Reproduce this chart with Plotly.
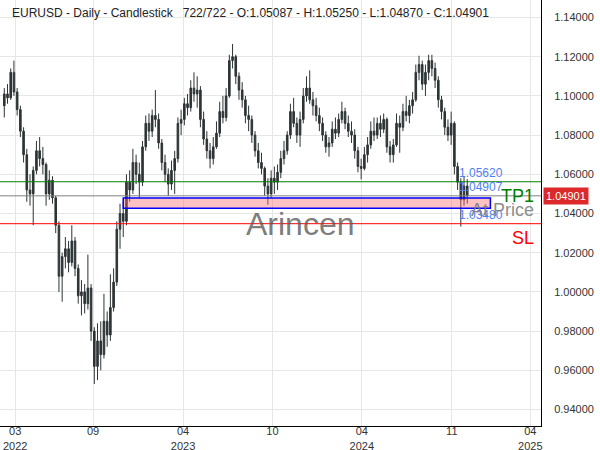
import plotly.graph_objects as go

# Weekly-aggregated candles (EURUSD)
opens = [1.095,1.101,1.099,1.112,1.102,1.093,1.082,1.070,1.052,1.050,
         1.062,1.072,1.068,1.065,1.050,1.057,1.048,1.034,1.008,1.018,
         1.022,1.015,1.026,1.012,0.998,1.000,0.994,1.002,0.980,0.962,
         0.975,0.968,0.985,0.978,0.992,1.005,1.032,1.040,1.036,1.056,
         1.052,1.066,1.060,1.056,1.074,1.086,1.082,1.090,1.088,1.076,
         1.066,1.060,1.055,1.062,1.068,1.086,1.088,1.096,1.094,1.104,
         1.101,1.103,1.088,1.078,1.072,1.068,1.074,1.081,1.092,1.089,
         1.100,1.118,1.120,1.110,1.103,1.098,1.090,1.088,1.080,1.072,
         1.066,1.063,1.054,1.050,1.058,1.056,1.061,1.068,1.072,1.080,
         1.092,1.086,1.080,1.088,1.100,1.104,1.098,1.095,1.090,1.086,
         1.080,1.074,1.076,1.083,1.081,1.088,1.092,1.086,1.082,1.080,
         1.072,1.064,1.063,1.070,1.075,1.082,1.080,1.086,1.083,1.088,
         1.074,1.070,1.075,1.086,1.084,1.092,1.090,1.095,1.098,1.112,
         1.116,1.106,1.112,1.118,1.114,1.108,1.098,1.092,1.084,1.080,
         1.086,1.064,1.056,1.047,1.054]
highs = [1.104,1.106,1.114,1.118,1.104,1.095,1.084,1.073,1.060,1.064,
         1.077,1.079,1.074,1.066,1.062,1.059,1.049,1.036,1.020,1.028,
         1.026,1.034,1.028,1.014,1.006,1.004,1.019,1.004,0.982,0.984,
         0.985,0.999,0.990,1.009,1.012,1.036,1.045,1.046,1.060,1.062,
         1.073,1.070,1.066,1.077,1.090,1.091,1.093,1.103,1.091,1.078,
         1.070,1.063,1.067,1.072,1.089,1.093,1.099,1.101,1.108,1.112,
         1.110,1.105,1.092,1.082,1.076,1.079,1.087,1.097,1.100,1.104,
         1.121,1.1265,1.121,1.112,1.107,1.100,1.095,1.090,1.082,1.076,
         1.071,1.064,1.058,1.062,1.064,1.065,1.072,1.077,1.082,1.096,
         1.099,1.089,1.092,1.104,1.110,1.113,1.102,1.099,1.094,1.089,
         1.082,1.079,1.087,1.089,1.091,1.097,1.094,1.090,1.087,1.083,
         1.074,1.068,1.074,1.079,1.087,1.089,1.089,1.090,1.091,1.089,
         1.077,1.078,1.091,1.090,1.096,1.100,1.098,1.102,1.116,1.1205,
         1.118,1.116,1.121,1.121,1.117,1.110,1.100,1.094,1.088,1.092,
         1.087,1.066,1.058,1.059,1.0575]
lows = [1.089,1.096,1.098,1.100,1.090,1.079,1.066,1.046,1.044,1.034,
        1.060,1.064,1.060,1.044,1.047,1.045,1.030,1.000,0.995,1.012,
        1.010,1.013,1.008,0.994,0.988,0.989,0.991,0.975,0.953,0.955,
        0.960,0.966,0.972,0.975,0.990,1.003,1.022,1.028,1.034,1.046,
        1.050,1.055,1.048,1.054,1.072,1.077,1.079,1.084,1.073,1.062,
        1.056,1.049,1.052,1.050,1.066,1.080,1.085,1.090,1.092,1.097,
        1.094,1.084,1.075,1.068,1.063,1.065,1.073,1.079,1.086,1.087,
        1.099,1.114,1.106,1.098,1.094,1.086,1.082,1.076,1.069,1.063,
        1.060,1.049,1.0445,1.048,1.050,1.052,1.058,1.065,1.070,1.078,
        1.084,1.076,1.074,1.086,1.097,1.096,1.090,1.087,1.082,1.077,
        1.071,1.069,1.074,1.078,1.079,1.086,1.083,1.079,1.076,1.068,
        1.061,1.0574,1.062,1.066,1.073,1.077,1.078,1.079,1.081,1.071,
        1.066,1.066,1.074,1.071,1.082,1.087,1.086,1.091,1.097,1.108,
        1.103,1.100,1.108,1.110,1.104,1.094,1.088,1.080,1.077,1.075,
        1.060,1.052,1.0333,1.044,1.045]
closes = [1.101,1.099,1.112,1.102,1.093,1.082,1.070,1.052,1.050,1.062,
          1.072,1.068,1.065,1.050,1.057,1.048,1.034,1.008,1.018,1.022,
          1.015,1.026,1.012,0.998,1.000,0.994,1.002,0.980,0.962,0.975,
          0.968,0.985,0.978,0.992,1.005,1.032,1.040,1.036,1.056,1.052,
          1.066,1.060,1.056,1.074,1.086,1.082,1.090,1.088,1.076,1.066,
          1.060,1.055,1.062,1.068,1.086,1.088,1.096,1.094,1.104,1.101,
          1.103,1.088,1.078,1.072,1.068,1.074,1.081,1.092,1.089,1.100,
          1.118,1.120,1.110,1.103,1.098,1.090,1.088,1.080,1.072,1.066,
          1.063,1.054,1.050,1.058,1.056,1.061,1.068,1.072,1.080,1.092,
          1.086,1.080,1.088,1.100,1.104,1.098,1.095,1.090,1.086,1.080,
          1.074,1.076,1.083,1.081,1.088,1.092,1.086,1.082,1.080,1.072,
          1.064,1.063,1.070,1.075,1.082,1.080,1.086,1.083,1.088,1.074,
          1.070,1.075,1.086,1.084,1.092,1.090,1.095,1.098,1.112,1.116,
          1.106,1.112,1.118,1.114,1.108,1.098,1.092,1.084,1.080,1.086,
          1.064,1.056,1.047,1.054,1.04901]

bars_per_candle = 5
bar_index = [bars_per_candle * i + 2 for i in range(len(closes))]

tick_index = [19, 140, 280, 419, 558, 698, 820]
tick_labels = ["03<br>2022", "09", "04<br>2023", "10", "04<br>2024", "11", "04<br>2025"]

tp1 = 1.05620
entry = 1.04907
sl = 1.03480
last_price = 1.04901
zone_low, zone_high = 1.0427, 1.0479
zone_start, zone_end = 187, 758

title = ("EURUSD - Daily - Candlestick\u00a0\u00a0\u00a0722/722 - O:1.05087 - "
         "H:1.05250 - L:1.04870 - C:1.04901")

candle_color = "#2d3436"
fig = go.Figure(go.Candlestick(
    x=bar_index, open=opens, high=highs, low=lows, close=closes,
    increasing=dict(line=dict(color=candle_color, width=1), fillcolor=candle_color),
    decreasing=dict(line=dict(color=candle_color, width=1), fillcolor=candle_color),
    whiskerwidth=0, showlegend=False, hoverinfo="skip",
))

shapes = [
    dict(type="rect", xref="x", yref="y", x0=zone_start, x1=zone_end,
         y0=zone_low, y1=zone_high, fillcolor="rgba(255,110,110,0.42)",
         line=dict(color="#0000ff", width=1.5), layer="above"),
    dict(type="line", xref="paper", yref="y", x0=0, x1=1, y0=tp1, y1=tp1,
         line=dict(color="#008000", width=1), layer="above"),
    dict(type="line", xref="paper", yref="y", x0=0, x1=1, y0=last_price, y1=last_price,
         line=dict(color="#808080", width=1), layer="above"),
    dict(type="line", xref="paper", yref="y", x0=0, x1=1, y0=sl, y1=sl,
         line=dict(color="#ff0000", width=1), layer="above"),
]

blue = "#4f7ff2"
ann = [
    dict(text=title, xref="paper", yref="paper", x=10/541, y=1-13/426,
         xanchor="left", yanchor="middle", showarrow=False,
         font=dict(size=12, color="#222222")),
    dict(text="Arincen", xref="paper", yref="paper", x=300/541, y=1-224/426,
         xanchor="center", yanchor="middle", showarrow=False,
         font=dict(size=32, color="rgba(90,90,90,0.8)")),
    dict(text=f"{tp1:.5f}", xref="x", yref="y", x=706, y=tp1,
         xanchor="left", yanchor="bottom", showarrow=False,
         font=dict(size=12, color=blue)),
    dict(text=f"{entry:.5f}", xref="x", yref="y", x=706, y=entry,
         xanchor="left", yanchor="bottom", showarrow=False,
         font=dict(size=12, color=blue)),
    dict(text=f"{sl:.5f}", xref="x", yref="y", x=706, y=sl,
         xanchor="left", yanchor="bottom", showarrow=False,
         font=dict(size=12, color=blue)),
    dict(text="TP1", xref="paper", yref="paper", x=536/541, y=1-196/426,
         xanchor="right", yanchor="middle", showarrow=False,
         font=dict(size=18, color="#008000")),
    dict(text="At Price", xref="paper", yref="paper", x=536/541, y=1-210/426,
         xanchor="right", yanchor="middle", showarrow=False,
         font=dict(size=18, color="rgba(120,120,120,0.85)")),
    dict(text="SL", xref="paper", yref="paper", x=536/541, y=1-238/426,
         xanchor="right", yanchor="middle", showarrow=False,
         font=dict(size=18, color="#ff0000")),
    dict(text=f"{last_price:.5f}", xref="paper", yref="y", x=1, y=last_price,
         xanchor="left", yanchor="middle", showarrow=False, xshift=2,
         bgcolor="#dc2a2a", borderpad=2,
         font=dict(size=11, color="#ffffff")),
]

fig.update_layout(
    width=600, height=450,
    margin=dict(l=0, r=59, t=0, b=24),
    paper_bgcolor="white", plot_bgcolor="white",
    font=dict(family="Liberation Sans, Arial, sans-serif", color="#333333"),
    shapes=shapes, annotations=ann,
    xaxis=dict(range=[-4.67, 836.7], tickvals=tick_index, ticktext=tick_labels,
               showgrid=True, gridcolor="#e6e6e6", gridwidth=1, zeroline=False,
               showline=True, linecolor="#000000", linewidth=1, automargin=False,
               ticks="", ticklabelstandoff=-5, tickfont=dict(size=11, color="#333333"),
               rangeslider=dict(visible=False)),
    yaxis=dict(side="right", range=[0.93158, 1.14893], tick0=0.94, dtick=0.02,
               tickformat=".5f", showgrid=True, gridcolor="#e6e6e6", gridwidth=1,
               zeroline=False, showline=True, linecolor="#000000", linewidth=1,
               automargin=False,
               ticks="", ticklabelstandoff=10, tickfont=dict(size=11, color="#333333")),
)

fig.write_html("out.html")
